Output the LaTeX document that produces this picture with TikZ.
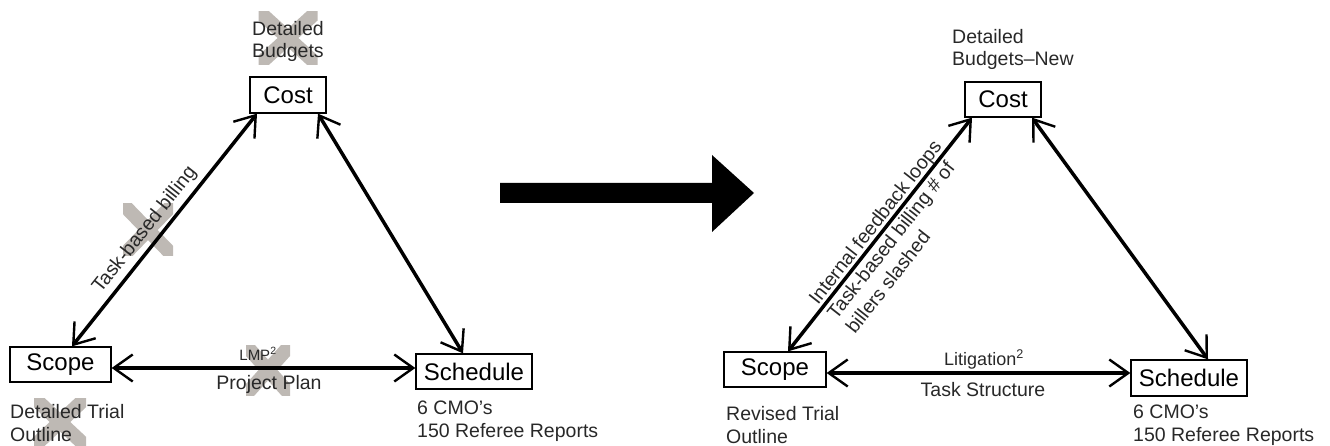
\documentclass[tikz,border=0pt]{standalone}
\usepackage{fontspec}
\setmainfont{Liberation Sans}
\usetikzlibrary{arrows.meta,calc}
\definecolor{crossgray}{RGB}{190,185,180}
\definecolor{labelink}{RGB}{40,40,40}

% grey strike-out cross: centre x, centre y, width, height
\newcommand\strikeX[4]{%
  \begin{scope}
    \clip (#1-#3/2,#2-#4/2) rectangle (#1+#3/2,#2+#4/2);
    \draw[xcross] (#1-#3/2-5,#2-#4/2-5) -- (#1+#3/2+5,#2+#4/2+5)
                  (#1+#3/2+5,#2-#4/2-5) -- (#1-#3/2-5,#2+#4/2+5);
  \end{scope}}

\begin{document}
\begin{tikzpicture}[x=1pt,y=-1pt,
  box/.style={draw, line width=1.3pt, inner sep=0pt, font=\fontsize{24}{28}\selectfont},
  lbl/.style={inner sep=0pt, text=labelink, font=\fontsize{19.5}{22.5}\selectfont, align=left},
  mid/.style={inner sep=0pt, text=labelink, font=\fontsize{19.5}{23}\selectfont},
  barb/.tip={Straight Barb[length=19pt,width=27pt,line width=2.4pt]},
  link/.style={line width=3.5pt, barb-barb},
  xcross/.style={crossgray, line width=14pt},
]
\useasboundingbox (0,0) rectangle (1330,446);

% ---------- crossed-out items (behind everything) ----------
\strikeX{288}{38}{59}{53}
\strikeX{148}{230}{50}{52}
\strikeX{268}{370}{44}{50}
\strikeX{60}{422}{52}{48}

% ---------- left triangle ----------
\node[box, minimum width=76pt, minimum height=36pt] (cost1)  at (288,95)    {Cost};
\node[box, minimum width=101pt, minimum height=35pt] (scope1) at (60.5,364.5) {Scope};
\node[box, minimum width=116pt, minimum height=35pt] (sched1) at (474,371.5) {Schedule};

% multi-line labels: placed by the baseline of their last line
\node[lbl, anchor=base west] (budget1) at (252,58)  {Detailed\\Budgets};
\node[lbl, anchor=base west] (trial1)  at (10,441)  {Detailed Trial\\Outline};
\node[lbl, anchor=base west] (cmo1)    at (417,437) {6 CMO's\\150 Referee Reports};

\draw[link] ($(scope1.north)+(11.5,0)$) -- ($(cost1.south)+(-31,0)$);
\draw[link] ($(cost1.south)+(30,0)$) -- ($(sched1.north)+(-11,0)$);
\draw[link] ($(scope1.east)+(0,3.5)$) coordinate (h1) -- (h1 -| sched1.west);

\node[mid, rotate=51.7] (billing1) at (145,230) {Task-based billing};
\node[mid, anchor=base, font=\fontsize{15}{17}\selectfont] (lmp) at (258,360) {LMP\textsuperscript{2}};
\node[mid, anchor=base] (plan) at (269,389) {Project Plan};

% ---------- transition arrow ----------
\fill (500,183) -- (712,183) -- (712,155) -- (754,193) -- (712,232)
      -- (712,203) -- (500,203) -- cycle;

% ---------- right triangle ----------
\node[box, minimum width=76pt, minimum height=35pt] (cost2)  at (1003,99.5) {Cost};
\node[box, minimum width=102pt, minimum height=35pt] (scope2) at (775,369.5) {Scope};
\node[box, minimum width=116pt, minimum height=36pt] (sched2) at (1189,378)  {Schedule};

\node[lbl, anchor=base west] (budget2) at (952,66)   {Detailed\\Budgets\textendash New};
\node[lbl, anchor=base west] (trial2)  at (726,443)  {Revised Trial\\Outline};
\node[lbl, anchor=base west] (cmo2)    at (1133,441) {6 CMO's\\150 Referee Reports};

\draw[link] ($(scope2.north)+(13,0)$) -- ($(cost2.south)+(-31,0)$);
\draw[link] ($(cost2.south)+(29,0)$) -- ($(sched2.north)+(19,0)$);
\draw[link] ($(scope2.east)+(0,3.5)$) coordinate (h2) -- (h2 -| sched2.west);

\node[lbl, rotate=51.9, anchor=west, font=\fontsize{19.5}{23.5}\selectfont] (loops) at (831,316)
  {Internal feedback loops\\Task-based billing \# of\\billers slashed};
\node[mid, anchor=base, font=\fontsize{18}{20}\selectfont] (litig) at (984,365) {Litigation\textsuperscript{2}};
\node[mid, anchor=base] (tasks) at (983,396) {Task Structure};

\end{tikzpicture}
\end{document}
